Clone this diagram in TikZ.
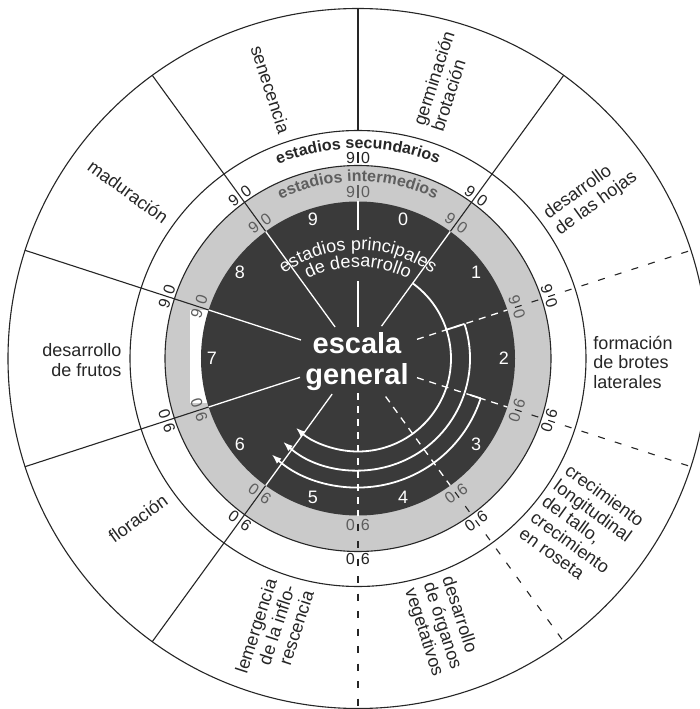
\documentclass[tikz,border=0pt]{standalone}
\usepackage{fontspec}
\setmainfont{Liberation Sans}
\usetikzlibrary{decorations.text,arrows.meta}
\definecolor{darkfill}{HTML}{3A3A3A}
\definecolor{ringgrey}{HTML}{CACACA}
\definecolor{inkc}{HTML}{262626}
\definecolor{midgrey}{HTML}{5E5E5E}
\begin{document}
\begin{tikzpicture}[x=1pt,y=1pt,
  ring/.style={draw=inkc, line width=1.1pt},
  blk/.style={draw=inkc, line width=1.1pt},
  wht/.style={draw=white, line width=1.3pt},
  dsh/.style={dash pattern=on 7pt off 10.5pt},
  wdsh/.style={dash pattern=on 7pt off 6pt},
  seclabel/.style={font=\fontsize{18}{19.5}\selectfont, text=inkc, inner sep=0pt},
  stagenum/.style={font=\fontsize{18}{18}\selectfont, text=white, inner sep=0pt},
  ringdig/.style={font=\fontsize{16}{16}\selectfont, inner sep=0pt},
  arcarrow/.style={draw=white, line width=1.8pt, -{Latex[length=10pt,width=7pt]}},
]
\useasboundingbox (-358,-350.5) rectangle (342,358.5);
\clip (-358,-350.5) rectangle (342,358.5);
\fill[white] (-358,-350.5) rectangle (342,358.5);
% rings
\draw[ring] (0,0) circle[radius=350];
\draw[ring] (0,0) circle[radius=228];
\fill[ringgrey] (0,0) circle[radius=193];
\draw[ring] (0,0) circle[radius=193];
\fill[white] (-168,48.5) rectangle (-150,-44.5);
\fill[darkfill] (0,0) circle[radius=157];
% solid boundaries
\foreach \a/\r in {126/39,162/60,198/61,234/44,54/40}{
  \draw[blk] (\a:157) -- (\a:350);
  \draw[wht] (\a:\r) -- (\a:157);
}
% dashed boundaries
\foreach \a/\r in {18/62,342/62,306/47,270/34.5}{
  \draw[blk,dsh] (\a:165) -- (\a:350);
  \draw[wht,wdsh] (\a:\r) -- (\a:157);
}
% top boundary (interrupted by the titles)
\draw[blk] (90:228) -- (90:350);
\draw[blk] (90:195.5) -- (90:206.5);
\draw[draw=midgrey, line width=1.1pt] (90:160.5) -- (90:173.5);
\draw[wht] (90:128) -- (90:157);
\draw[wht] (90:31.5) -- (90:77);
% ring digits
\foreach \a/\n in {90/a,126/b,162/c,198/d,234/e,270/f,306/g,342/h,18/i,54/j}{
  \begin{scope}[rotate=\a-90, transform shape]
    \node[ringdig, text=midgrey] (gn\n) at (-7.5,167) {9};
    \node[ringdig, text=midgrey] (gz\n) at (7.5,167) {0};
    \node[ringdig, text=inkc] (wn\n) at (-7.5,201) {9};
    \node[ringdig, text=inkc] (wz\n) at (7.5,201) {0};
  \end{scope}
}
% ring titles
\path[decorate, decoration={text along path, text align=center, text color=inkc,
  text={|\bfseries\fontsize{16}{16}\selectfont|estadios secundarios}}]
  (150:210) arc[start angle=150, end angle=30, radius=210];
\path[decorate, decoration={text along path, text align=center, text color=midgrey,
  text={|\bfseries\fontsize{16}{16}\selectfont|estadios intermedios}}]
  (150:177) arc[start angle=150, end angle=30, radius=177];
% inner titles
\begin{scope}[shift={(0,-19.5)}]
\path[decorate, decoration={text along path, text align=center, text color=white,
  text={|\fontsize{18}{18}\selectfont|estadios principales}}]
  (160:128) arc[start angle=160, end angle=20, radius=128];
\path[decorate, decoration={text along path, text align=center, text color=white,
  text={|\fontsize{18}{18}\selectfont|de desarrollo}}]
  (160:111) arc[start angle=160, end angle=20, radius=111];
\end{scope}
% stage numbers
\foreach \k in {0,...,9}{
  \node[stagenum] (st\k) at ({72-36*\k}:146) {\k};
}
% central text
\node[font=\bfseries\fontsize{29}{31}\selectfont, text=white, align=center, inner sep=0pt] (esc) at (-1,-3.5) {escala\\general};
% curved arrows
\draw[arcarrow] (54:93) arc[start angle=54, end angle=-132, radius=93];
\draw[arcarrow] (18:112) arc[start angle=18, end angle=-132, radius=112];
\draw[arcarrow] (-18:129) arc[start angle=-18, end angle=-132, radius=129];
\draw[draw=white, line width=1.8pt] (18:92) -- (18:112);
\draw[draw=white, line width=1.8pt] (-18:118) -- (-18:129);
% sector labels
\node[seclabel, rotate=72, align=left] (s0) at (73:290) {germinación\\brotación};
\node[seclabel, rotate=36, align=left] (s1) at (35:284) {desarrollo\\de las hojas};
\node[seclabel, align=left] (s2) at (275,-3.5) {formación\\de brotes\\laterales};
\node[seclabel, rotate=-36, align=left] (s3) at (-36.9:280) {crecimiento\\longitudinal\\del tallo,\\crecimiento\\en roseta};
\node[seclabel, rotate=-72, align=left] (s4) at (-72.6:281) {desarrollo\\de órganos\\vegetativos};
\node[seclabel, rotate=72, align=right] (s5) at (253:286) {lemergencia\\de la inflo-\\rescencia};
\node[seclabel, rotate=36] (s6) at (216:272) {floración};
\node[seclabel, align=right] (s7) at (-276,-1.5) {desarrollo\\de frutos};
\node[seclabel, rotate=-36] (s8) at (144:284) {maduración};
\node[seclabel, rotate=-72] (s9) at (108:283) {senecencia};
\end{tikzpicture}
\end{document}
